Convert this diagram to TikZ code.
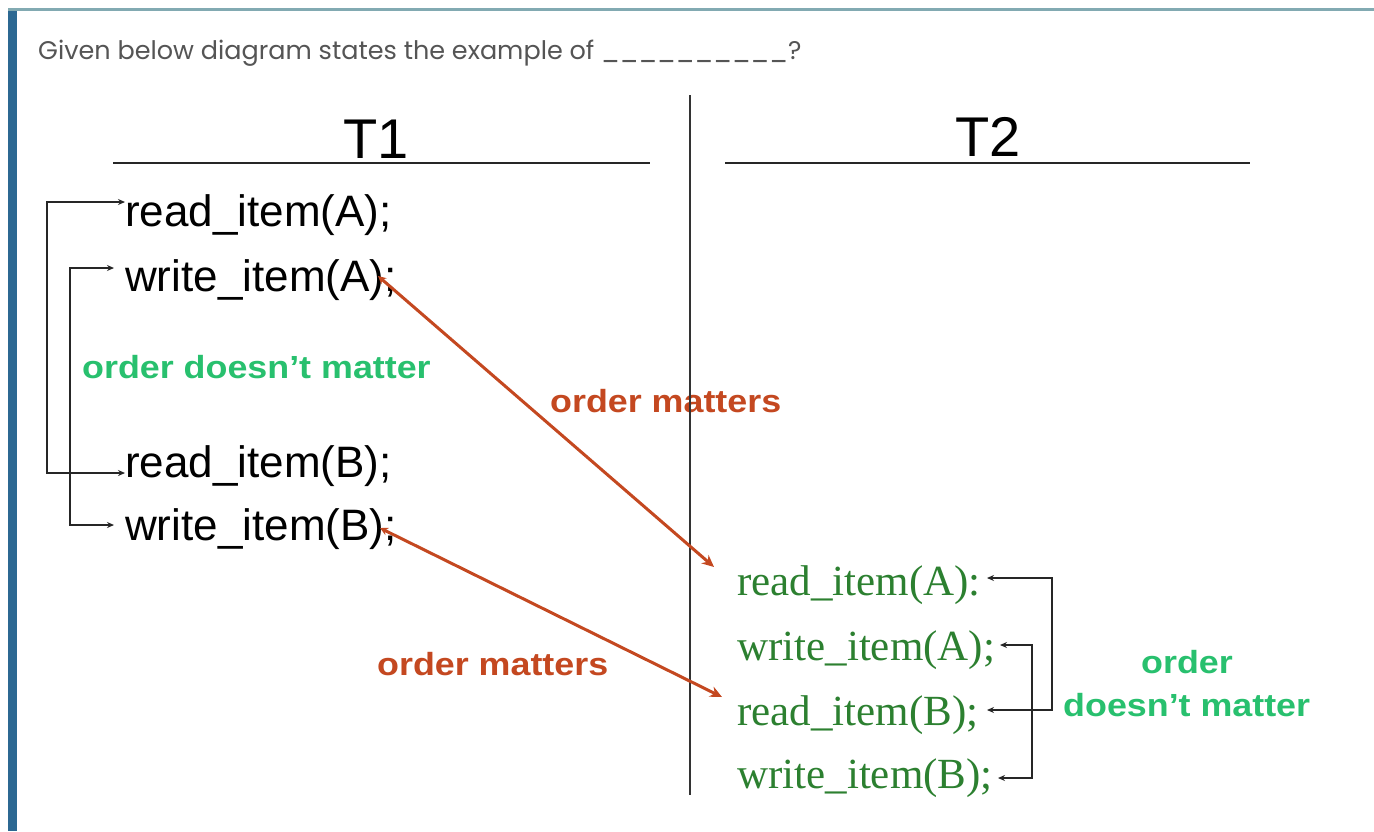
\documentclass[tikz,border=0pt]{standalone}
\usepackage{fontspec}
\setmainfont{Liberation Sans}
\newfontfamily\qfont{Poppins}
\newfontfamily\serifx{Liberation Serif}
\newfontfamily\lblfont{Liberation Sans}[FakeStretch=1.12]
\usetikzlibrary{arrows.meta}
\definecolor{framebar}{RGB}{44,104,146}
\definecolor{frametop}{RGB}{130,170,178}
\definecolor{qgray}{RGB}{85,85,85}
\definecolor{ordred}{RGB}{196,72,32}
\definecolor{lblgreen}{RGB}{40,192,110}
\definecolor{itemgreen}{RGB}{44,128,48}
\begin{document}
\begin{tikzpicture}[x=1pt,y=-1pt,
  item/.style={anchor=base west,inner sep=0pt,font=\fontsize{44}{50}\selectfont},
  gitem/.style={anchor=base west,inner sep=0pt,text=itemgreen,font=\serifx\fontsize{43}{50}\selectfont},
  glabel/.style={inner sep=0pt,text=lblgreen,font=\lblfont\bfseries\fontsize{32}{38}\selectfont},
  rlabel/.style={inner sep=0pt,text=ordred,font=\lblfont\bfseries\fontsize{32}{38}\selectfont},
  title/.style={anchor=base,inner sep=0pt,font=\fontsize{56}{60}\selectfont},
  rule/.style={draw=black!85,line width=1.5pt},
  blk/.style={draw=black!85,line width=1.5pt,{Stealth[length=7pt,width=6pt]}-{Stealth[length=7pt,width=6pt]}},
  redarrow/.style={draw=ordred,line width=3pt,{Stealth[length=8pt,width=8pt]}-{Stealth[length=12pt,width=11pt]}},
]
\useasboundingbox (0,0) rectangle (1374,831);
\fill[white] (0,0) rectangle (1374,831);
\fill[framebar] (8,8) rectangle (17,831);
\draw[frametop,line width=3pt] (8,9.5) -- (1374,9.5);

\node[anchor=base west,inner sep=0pt,text=qgray,font=\qfont\fontsize{25.5}{30}\selectfont] (q) at (38,59)
  {Given below diagram states the example of \_\_\_\_\_\_\_\_\_\_?};

% titles
\node[title] (t1) at (376,158) {T1};
\node[title] (t2) at (988,156) {T2};
\draw[rule] (113,163) -- (650,163);
\draw[rule] (725,163) -- (1250,163);

% left column
\node[item] (ra) at (125,226) {read\_item(A);};
\node[item] (wa) at (125,291) {write\_item(A);};
\node[item] (rb) at (125,477) {read\_item(B);};
\node[item] (wb) at (125,540) {write\_item(B);};
\node[glabel,anchor=base west] (l1) at (82,378) {order doesn’t matter};

\coordinate (lo1) at (47,202);
\coordinate (lo2) at (47,473);
\coordinate (li1) at (70,268);
\coordinate (li2) at (70,525);
\coordinate (wat) at (114,268);
\coordinate (wbt) at (114,525);
\draw[blk] (ra.west |- lo1) -- (lo1) -- (lo2) -- (rb.west |- lo2);
\draw[blk] (wat) -- (li1) -- (li2) -- (wbt);

% right column
\node[gitem] (gra) at (737,595) {read\_item(A):};
\node[gitem] (gwa) at (737,660) {write\_item(A);};
\node[gitem] (grb) at (737,725) {read\_item(B);};
\node[gitem] (gwb) at (737,788) {write\_item(B);};
\node[glabel,anchor=base] (l2a) at (1187,673) {order};
\node[glabel,anchor=base west] (l2b) at (1063,716) {doesn’t matter};

\coordinate (ro1) at (1052,578);
\coordinate (ro2) at (1052,710);
\coordinate (ri1) at (1032,645);
\coordinate (ri2) at (1032,778);
\coordinate (gat) at (987,578);
\coordinate (gbt) at (987,710);
\coordinate (gwat) at (1000,645);
\coordinate (gwbt) at (998,778);
\draw[blk] (gat) -- (ro1) -- (ro2) -- (gbt);
\draw[blk] (gwat) -- (ri1) -- (ri2) -- (gwbt);

% order matters
\node[rlabel,anchor=base west] (m1) at (550,412) {order matters};
\node[rlabel,anchor=base west] (m2) at (377,675) {order matters};

% divider
\draw[draw=black!80,line width=1.5pt] (690,95) -- (690,795);

% red arrows
\coordinate (r1s) at (378,276);
\coordinate (r1e) at (714,567);
\coordinate (r2s) at (380,528);
\coordinate (r2e) at (722,697);
\draw[redarrow] (r1s) -- (r1e);
\draw[redarrow] (r2s) -- (r2e);
\end{tikzpicture}
\end{document}
